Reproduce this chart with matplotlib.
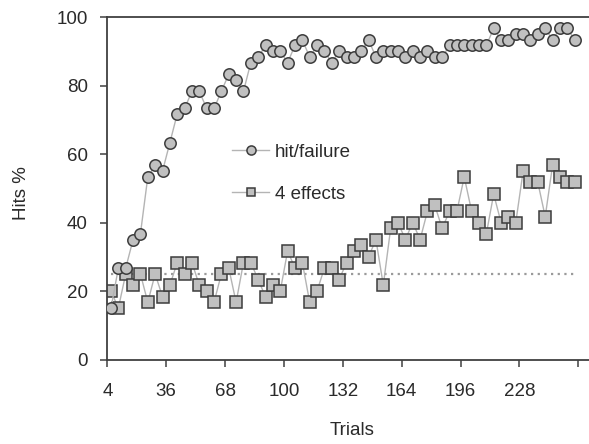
import matplotlib
matplotlib.use('Agg')
import matplotlib.pyplot as plt

plt.rcParams['font.family'] = ['Liberation Sans', 'DejaVu Sans']

# trial blocks (x positions of the points)
trials = [6, 10, 14, 18, 22, 26, 30, 34, 38, 42, 46, 50, 54, 58, 62, 66,
          70, 74, 78, 82, 86, 90, 94, 98, 102, 106, 110, 114, 118, 122, 126, 130,
          134, 138, 142, 146, 150, 154, 158, 162, 166, 170, 174, 178, 182, 186, 190, 194,
          198, 202, 206, 210, 214, 218, 222, 226, 230, 234, 238, 242, 246, 250, 254, 258]

# hits % for the hit/failure condition
hit_failure = [15.0, 26.7, 26.7, 35.0, 36.7, 53.3, 56.7, 55.0, 63.3, 71.7, 73.3, 78.3, 78.3, 73.3, 73.3, 78.3,
               83.3, 81.7, 78.3, 86.7, 88.3, 91.7, 90.0, 90.0, 86.7, 91.7, 93.3, 88.3, 91.7, 90.0, 86.7, 90.0,
               88.3, 88.3, 90.0, 93.3, 88.3, 90.0, 90.0, 90.0, 88.3, 90.0, 88.3, 90.0, 88.3, 88.3, 91.7, 91.7,
               91.7, 91.7, 91.7, 91.7, 96.7, 93.3, 93.3, 95.0, 95.0, 93.3, 95.0, 96.7, 93.3, 96.7, 96.7, 93.3]

# hits % for the 4 effects condition
four_effects = [20.0, 15.0, 25.0, 21.7, 25.0, 16.7, 25.0, 18.3, 21.7, 28.3, 25.0, 28.3, 21.7, 20.0, 16.7, 25.0,
                26.7, 16.7, 28.3, 28.3, 23.3, 18.3, 21.7, 20.0, 31.7, 26.7, 28.3, 16.7, 20.0, 26.7, 26.7, 23.3,
                28.3, 31.7, 33.3, 30.0, 35.0, 21.7, 38.3, 40.0, 35.0, 40.0, 35.0, 43.3, 45.0, 38.3, 43.3, 43.3,
                53.3, 43.3, 40.0, 36.7, 48.3, 40.0, 41.7, 40.0, 55.0, 51.7, 51.7, 41.7, 56.7, 53.3, 51.7, 51.7]

chance = 25
xtick_vals = [4, 36, 68, 100, 132, 164, 196, 228, 260]
xtick_labels = ['4', '36', '68', '100', '132', '164', '196', '228', '']

fig = plt.figure(figsize=(5.89, 4.44), dpi=100)
ax = fig.add_axes([0.1822, 0.1903, 0.8178, 0.7714])

ax.hlines(chance, trials[0], trials[-1], colors='#9a9a9a', linestyles=(0, (1, 2)),
          linewidth=1.6, zorder=1)

ax.plot(trials, hit_failure, color='#b4b4b4', linewidth=1.0, marker='o', markersize=8.2,
        markerfacecolor='#c0c0c0', markeredgecolor='#3c3c3c', markeredgewidth=1.1,
        label='hit/failure', zorder=3)
ax.plot(trials, four_effects, color='#b4b4b4', linewidth=1.0, marker='s', markersize=8.0,
        markerfacecolor='#c0c0c0', markeredgecolor='#3c3c3c', markeredgewidth=1.1,
        label='4 effects', zorder=2)

ax.set_xlim(4, 265.8)
ax.set_ylim(0, 100)
ax.set_yticks([0, 20, 40, 60, 80, 100])
ax.set_xticks(xtick_vals)
ax.set_xticklabels(xtick_labels)

for side in ['left', 'bottom', 'top']:
    ax.spines[side].set_color('#404040')
    ax.spines[side].set_linewidth(1.3)
ax.spines['right'].set_visible(False)

ax.tick_params(axis='both', direction='out', length=5, width=1.1, color='#404040',
               labelsize=13.5, labelcolor='#2a2a2a')
ax.tick_params(axis='y', pad=9)
ax.tick_params(axis='x', pad=12)

fig.text(21.7 / 589, 1 - 193 / 444, 'Hits %', rotation=90, ha='center', va='center',
         fontsize=13.5, color='#2a2a2a')
fig.text(352 / 589, 1 - 430 / 444, 'Trials', ha='center', va='center',
         fontsize=13.5, color='#2a2a2a')

leg = ax.legend(loc='upper left', bbox_to_anchor=(0.243, 0.652), frameon=False,
                fontsize=13.5, handlelength=2.0, handletextpad=0.3, labelspacing=1.32,
                markerscale=0.8, borderaxespad=0)
for t in leg.get_texts():
    t.set_color('#2a2a2a')

fig.savefig('out.png', dpi=100)
